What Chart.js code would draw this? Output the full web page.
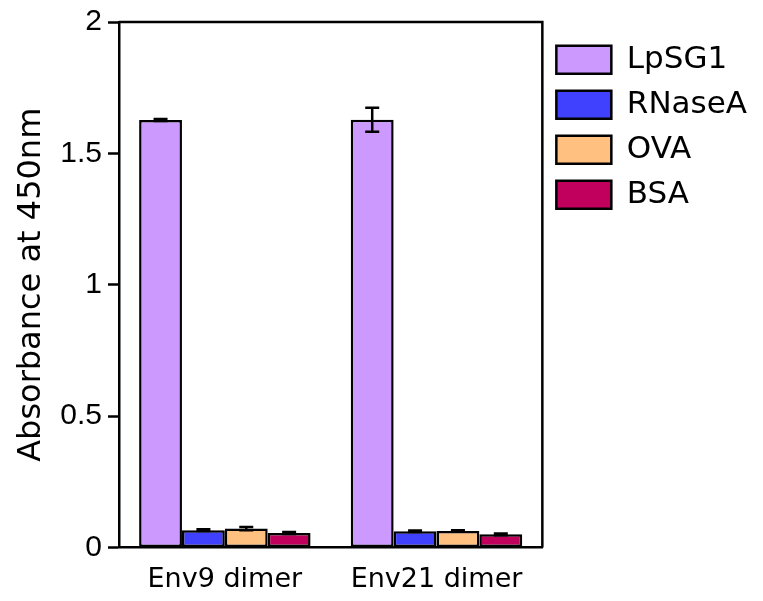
<!DOCTYPE html>
<html>
<head>
<meta charset="utf-8">
<script src="https://cdn.jsdelivr.net/npm/chart.js@4.4.1/dist/chart.umd.min.js"></script>
<style>
  html, body { margin: 0; padding: 0; background: #ffffff; }
  #wrap { width: 763px; height: 601px; }
</style>
</head>
<body>
<div id="wrap"><canvas id="chart" width="763" height="601"></canvas></div>
<script>
// Absorbance readings per coated antigen, with standard deviations
const categories = ['Env9 dimer', 'Env21 dimer'];
const yTicks = [0, 0.5, 1, 1.5, 2];

const lpsg1 = [1.627, 1.628];
const lpsg1Err = [0.004, 0.046];
const rnaseA = [0.066, 0.062];
const rnaseAErr = [0.003, 0.003];
const ova = [0.072, 0.063];
const ovaErr = [0.006, 0.003];
const bsa = [0.055, 0.050];
const bsaErr = [0.004, 0.003];

const AXIS_LEFT = 119;
const AXIS_BOTTOM = 547.5;
const LEGEND_MAX_WIDTH = 240;

// Let the side legend take the width its labels need
const wideLegend = {
  id: 'wideLegend',
  beforeLayout(chart) {
    const lg = chart.legend;
    if (lg && !lg.__wide) {
      const update = lg.update.bind(lg);
      lg.update = (maxWidth, maxHeight, margins) => update(LEGEND_MAX_WIDTH, maxHeight, margins);
      lg.__wide = true;
    }
  }
};

// Error bars (mean ± SD) drawn on top of each bar
const errorBars = {
  id: 'errorBars',
  afterDatasetsDraw(chart) {
    const ctx = chart.ctx;
    const y = chart.scales.y;
    chart.data.datasets.forEach((ds, i) => {
      const meta = chart.getDatasetMeta(i);
      meta.data.forEach((bar, j) => {
        const v = ds.data[j], e = ds.errors[j];
        const yTop = y.getPixelForValue(v + e);
        const yBot = y.getPixelForValue(v - e);
        ctx.save();
        ctx.strokeStyle = '#000';
        ctx.lineWidth = 2.5;
        ctx.beginPath();
        ctx.moveTo(bar.x, yTop); ctx.lineTo(bar.x, yBot);
        ctx.moveTo(bar.x - 7, yTop); ctx.lineTo(bar.x + 7, yTop);
        ctx.moveTo(bar.x - 7, yBot); ctx.lineTo(bar.x + 7, yBot);
        ctx.stroke();
        ctx.restore();
      });
    });
  }
};

// Top and right edges of the plot frame
const frame = {
  id: 'frame',
  afterDraw(chart) {
    const { ctx, chartArea: a } = chart;
    ctx.save();
    ctx.strokeStyle = '#000';
    ctx.lineWidth = 2.5;
    ctx.beginPath();
    ctx.moveTo(a.left, a.top);
    ctx.lineTo(a.right, a.top);
    ctx.lineTo(a.right, a.bottom);
    ctx.stroke();
    ctx.restore();
  }
};

const makeSet = (label, data, errors, color) => ({
  label, data, errors,
  backgroundColor: color,
  borderColor: '#000',
  borderWidth: 2.5,
  borderSkipped: false,
  categoryPercentage: 0.81,
  barPercentage: 1.0
});

new Chart(document.getElementById('chart'), {
  type: 'bar',
  data: {
    labels: categories,
    datasets: [
      makeSet('LpSG1', lpsg1, lpsg1Err, '#CC99FF'),
      makeSet('RNaseA', rnaseA, rnaseAErr, '#4040FF'),
      makeSet('OVA', ova, ovaErr, '#FFC080'),
      makeSet('BSA', bsa, bsaErr, '#C0005C')
    ]
  },
  options: {
    responsive: false,
    animation: false,
    devicePixelRatio: 1,
    layout: { padding: { left: 0, top: 22, right: 6, bottom: 0 } },
    plugins: {
      tooltip: { enabled: false },
      legend: {
        position: 'right',
        align: 'start',
        title: { display: true, text: '', font: { size: 1 }, padding: { top: 7, bottom: 0 } },
        labels: {
          boxWidth: 55,
          boxHeight: 28,
          padding: 14,
          color: '#000',
          font: { family: 'DejaVu Sans', size: 31 }
        }
      }
    },
    scales: {
      x: {
        grid: { display: false },
        border: { display: true, color: '#000', width: 2.5 },
        ticks: {
          color: '#000',
          padding: 8,
          font: { family: 'DejaVu Sans', size: 27 },
          maxRotation: 0
        },
        afterFit(scale) { scale.height = 601 - AXIS_BOTTOM; }
      },
      y: {
        min: 0,
        max: 2,
        afterBuildTicks(scale) { scale.ticks = yTicks.map(v => ({ value: v })); },
        ticks: {
          color: '#000',
          padding: 6,
          font: { family: 'Liberation Sans', size: 30, lineHeight: 1.0 },
          callback: v => String(v)
        },
        grid: {
          drawOnChartArea: false,
          drawTicks: true,
          tickLength: 11,
          tickColor: '#000',
          tickWidth: 2.5
        },
        border: { display: true, color: '#000', width: 2.5 },
        title: {
          display: true,
          text: 'Absorbance at 450nm',
          color: '#000',
          font: { family: 'DejaVu Sans', size: 32 },
          padding: { top: 12, bottom: 0 }
        },
        afterFit(scale) { scale.width = AXIS_LEFT; }
      }
    }
  },
  plugins: [wideLegend, errorBars, frame]
});
</script>
</body>
</html>
